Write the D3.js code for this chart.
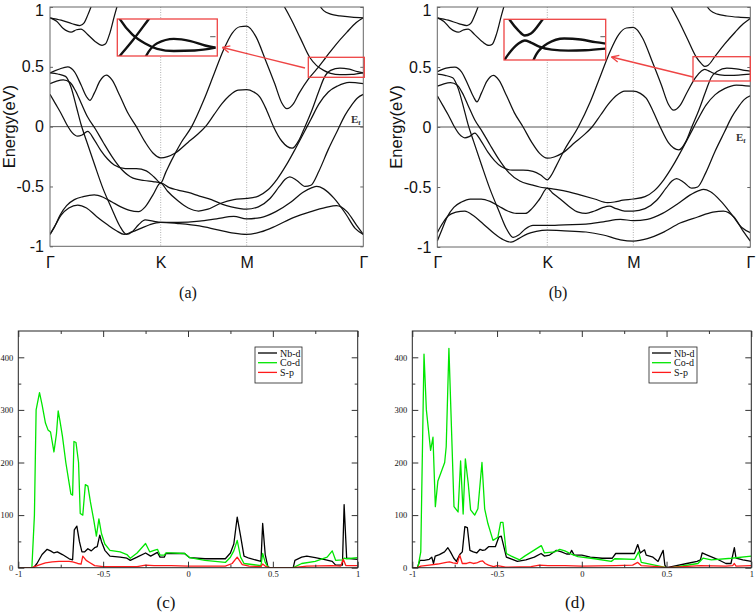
<!DOCTYPE html>
<html>
<head>
<meta charset="utf-8">
<script src="https://cdn.jsdelivr.net/npm/d3@7"></script>
<style>
  body { margin: 0; background: #fff; }
  svg { display: block; }
</style>
</head>
<body>
<svg id="fig" width="756" height="614"></svg>
<script>
// ---------- band structure data: [k (Γ=0, K=1, M=2, Γ=3), E in eV] ----------
var kTicks = [0, 1, 2, 3];
var kLabels = ["Γ", "K", "M", "Γ"];
var eTicks = [-1, -0.5, 0, 0.5, 1];

var aTop1 = [[0,0.91],[0.1,0.89],[0.2,0.86],[0.27,0.845],[0.31,0.87],[0.34,0.93],[0.37,1.0],[0.4,1.08]];
var aTop2 = [[0,0.91],[0.06,0.88],[0.12,0.82],[0.19,0.79],[0.24,0.81],[0.28,0.815],[0.34,0.77],[0.41,0.71],[0.47,0.68],[0.5,0.69],[0.54,0.78],[0.58,0.92],[0.62,1.05]];
var aU = [[0,0.45],[0.08,0.48],[0.16,0.5],[0.22,0.46],[0.28,0.35],[0.33,0.25],[0.36,0.22],[0.4,0.28],[0.45,0.38],[0.51,0.43],[0.56,0.39],[0.63,0.26],[0.7,0.12],[0.78,0.0],[0.86,-0.13],[0.93,-0.22],[1,-0.26],[1.08,-0.25],[1.17,-0.22],[1.32,-0.13],[1.42,-0.07],[1.52,0.0],[1.62,0.1],[1.71,0.19],[1.8,0.26],[1.9,0.305],[2,0.31],[2.06,0.29],[2.11,0.25],[2.17,0.14],[2.23,0.0],[2.3,-0.12],[2.39,-0.18],[2.45,-0.11],[2.5,0.0],[2.56,0.14],[2.62,0.3],[2.665,0.41],[2.72,0.47],[2.8,0.49],[2.88,0.48],[2.95,0.46],[3,0.45]];
var aS = [[0,0.45],[0.07,0.44],[0.14,0.42],[0.19,0.33],[0.24,0.16],[0.28,0.02],[0.33,-0.12],[0.4,-0.31],[0.48,-0.52],[0.56,-0.69],[0.63,-0.83],[0.69,-0.9],[0.74,-0.88],[0.8,-0.82],[0.86,-0.78],[0.93,-0.79],[1,-0.8],[1.2,-0.8],[1.45,-0.79],[1.65,-0.77],[1.85,-0.75],[2,-0.77],[2.12,-0.76],[2.25,-0.71],[2.38,-0.63],[2.48,-0.55],[2.56,-0.51],[2.6,-0.5],[2.66,-0.52],[2.75,-0.6],[2.85,-0.73],[2.93,-0.85],[3,-0.9]];
var aMid2 = [[0,0.36],[0.06,0.38],[0.12,0.39],[0.18,0.37],[0.23,0.3],[0.28,0.2],[0.34,0.08],[0.41,-0.02],[0.48,-0.13],[0.56,-0.25],[0.65,-0.36],[0.75,-0.43],[0.85,-0.45],[0.93,-0.46],[1,-0.47],[1.08,-0.54],[1.2,-0.62],[1.32,-0.68],[1.44,-0.705],[1.55,-0.69],[1.7,-0.64],[1.85,-0.61],[2,-0.6],[2.1,-0.58],[2.18,-0.53],[2.26,-0.44],[2.34,-0.32],[2.42,-0.18],[2.48,-0.07],[2.55,0.06],[2.62,0.19],[2.7,0.29],[2.78,0.34],[2.88,0.37],[3,0.36]];
var aMid1 = [[0,0.27],[0.05,0.19],[0.1,0.11],[0.15,0.02],[0.2,-0.05],[0.25,-0.08],[0.29,-0.07],[0.34,-0.04],[0.4,-0.11],[0.46,-0.2],[0.52,-0.27],[0.58,-0.32],[0.68,-0.35],[0.78,-0.35],[0.87,-0.37],[0.94,-0.42],[1,-0.47],[1.06,-0.38],[1.12,-0.29],[1.24,-0.13],[1.36,0.0],[1.5,0.22],[1.62,0.44],[1.73,0.64],[1.83,0.78],[1.92,0.835],[2,0.84],[2.08,0.75],[2.16,0.56],[2.24,0.36],[2.3,0.2],[2.345,0.15],[2.4,0.19],[2.45,0.28],[2.53,0.4],[2.6,0.48],[2.68,0.58],[2.76,0.68],[2.86,0.79],[2.94,0.87],[3,0.91]];
var aBx1 = [[0,-0.9],[0.05,-0.82],[0.1,-0.74],[0.17,-0.68],[0.25,-0.655],[0.33,-0.68],[0.42,-0.75],[0.52,-0.82],[0.6,-0.87],[0.67,-0.9],[0.74,-0.88],[0.82,-0.85],[0.9,-0.82],[1,-0.8],[1.2,-0.81],[1.45,-0.83],[1.65,-0.86],[1.85,-0.89],[2,-0.9],[2.12,-0.88],[2.25,-0.83],[2.4,-0.76],[2.55,-0.71],[2.68,-0.675],[2.77,-0.66],[2.86,-0.71],[2.94,-0.82],[3,-0.9]];
var aBx2 = [[0,-0.9],[0.04,-0.84],[0.09,-0.74],[0.15,-0.66],[0.22,-0.61],[0.3,-0.585],[0.4,-0.57],[0.48,-0.59],[0.56,-0.63],[0.64,-0.67],[0.72,-0.7],[0.8,-0.71],[0.86,-0.67],[0.93,-0.57],[1,-0.47],[1.1,-0.51],[1.2,-0.53],[1.32,-0.55],[1.45,-0.58],[1.59,-0.61],[1.72,-0.65],[1.82,-0.67],[2,-0.69],[2.1,-0.67],[2.2,-0.6],[2.28,-0.5],[2.33,-0.44],[2.37,-0.42],[2.43,-0.45],[2.5,-0.5],[2.55,-0.49],[2.62,-0.37],[2.7,-0.19],[2.78,-0.03],[2.84,0.09],[2.9,0.18],[2.95,0.24],[3,0.27]];
var aArc = [[2.58,1.1],[2.62,1.02],[2.66,0.97],[2.72,0.94],[2.8,0.925],[2.9,0.915],[3,0.91]];
var aDown = [[2.26,1.1],[2.3,1.04],[2.38,0.9],[2.46,0.74],[2.54,0.58],[2.6,0.51],[2.66,0.47],[2.72,0.445],[2.8,0.435],[2.9,0.437],[3,0.45]];

var bU = [[0,0.46],[0.08,0.49],[0.16,0.5],[0.22,0.46],[0.28,0.35],[0.33,0.25],[0.36,0.21],[0.4,0.28],[0.45,0.38],[0.51,0.43],[0.56,0.39],[0.63,0.26],[0.7,0.12],[0.78,0.0],[0.86,-0.13],[0.93,-0.22],[1,-0.26],[1.08,-0.25],[1.17,-0.22],[1.32,-0.13],[1.42,-0.07],[1.52,0.0],[1.62,0.1],[1.71,0.19],[1.8,0.26],[1.9,0.3],[2,0.3],[2.06,0.28],[2.11,0.24],[2.17,0.13],[2.23,0.0],[2.3,-0.13],[2.39,-0.19],[2.45,-0.12],[2.5,0.0],[2.56,0.14],[2.62,0.3],[2.665,0.41],[2.72,0.465],[2.8,0.49],[2.88,0.485],[2.95,0.472],[3,0.465]];
var bS = [[0,0.44],[0.07,0.43],[0.14,0.41],[0.19,0.32],[0.24,0.16],[0.28,0.02],[0.33,-0.12],[0.4,-0.31],[0.48,-0.52],[0.56,-0.7],[0.63,-0.85],[0.69,-0.92],[0.74,-0.9],[0.8,-0.85],[0.87,-0.82],[0.94,-0.82],[1,-0.82],[1.2,-0.815],[1.45,-0.81],[1.65,-0.79],[1.85,-0.77],[2,-0.78],[2.12,-0.77],[2.25,-0.72],[2.38,-0.64],[2.48,-0.57],[2.56,-0.53],[2.6,-0.52],[2.66,-0.54],[2.75,-0.62],[2.85,-0.74],[2.93,-0.84],[3,-0.88]];
var bMid2 = [[0,0.34],[0.06,0.36],[0.12,0.37],[0.18,0.35],[0.23,0.28],[0.28,0.18],[0.34,0.06],[0.41,-0.04],[0.48,-0.15],[0.56,-0.27],[0.65,-0.38],[0.75,-0.45],[0.85,-0.48],[0.93,-0.5],[1,-0.51],[1.1,-0.52],[1.25,-0.54],[1.4,-0.57],[1.55,-0.6],[1.7,-0.63],[1.78,-0.625],[1.88,-0.61],[2,-0.6],[2.1,-0.58],[2.18,-0.53],[2.26,-0.44],[2.34,-0.32],[2.42,-0.18],[2.48,-0.07],[2.55,0.06],[2.62,0.18],[2.7,0.27],[2.78,0.32],[2.88,0.35],[3,0.34]];
var bMid1 = [[0,0.26],[0.05,0.18],[0.1,0.1],[0.15,0.01],[0.2,-0.06],[0.25,-0.09],[0.29,-0.08],[0.34,-0.05],[0.4,-0.12],[0.46,-0.21],[0.52,-0.28],[0.58,-0.33],[0.68,-0.36],[0.78,-0.36],[0.87,-0.37],[0.94,-0.4],[1,-0.44],[1.04,-0.41],[1.1,-0.33],[1.2,-0.19],[1.36,0.0],[1.5,0.21],[1.62,0.43],[1.73,0.63],[1.83,0.77],[1.92,0.825],[2,0.83],[2.08,0.74],[2.16,0.55],[2.24,0.35],[2.3,0.19],[2.345,0.14],[2.4,0.18],[2.46,0.29],[2.53,0.41],[2.58,0.465],[2.61,0.48],[2.64,0.47],[2.68,0.45],[2.74,0.435],[2.82,0.43],[2.9,0.432],[3,0.44]];
var bBx1 = [[0,-0.88],[0.05,-0.8],[0.1,-0.74],[0.17,-0.71],[0.25,-0.7],[0.33,-0.74],[0.42,-0.81],[0.52,-0.89],[0.6,-0.94],[0.67,-0.96],[0.74,-0.93],[0.82,-0.89],[0.9,-0.87],[1,-0.86],[1.2,-0.865],[1.45,-0.875],[1.65,-0.9],[1.85,-0.94],[2,-0.95],[2.12,-0.93],[2.25,-0.88],[2.4,-0.8],[2.55,-0.75],[2.68,-0.71],[2.77,-0.7],[2.86,-0.75],[2.94,-0.87],[3,-0.95]];
var bBx2 = [[0,-0.95],[0.04,-0.86],[0.09,-0.75],[0.15,-0.67],[0.22,-0.625],[0.3,-0.6],[0.4,-0.6],[0.48,-0.62],[0.56,-0.66],[0.64,-0.7],[0.72,-0.72],[0.8,-0.72],[0.86,-0.68],[0.93,-0.6],[1,-0.51],[1.06,-0.55],[1.15,-0.6],[1.25,-0.66],[1.36,-0.71],[1.45,-0.72],[1.55,-0.7],[1.65,-0.67],[1.72,-0.66],[1.8,-0.68],[1.9,-0.7],[2,-0.7],[2.1,-0.68],[2.2,-0.61],[2.28,-0.51],[2.33,-0.45],[2.37,-0.43],[2.43,-0.46],[2.5,-0.51],[2.55,-0.5],[2.62,-0.38],[2.7,-0.2],[2.78,-0.04],[2.84,0.08],[2.9,0.17],[2.95,0.23],[3,0.26]];
var bDown = [[2.26,1.1],[2.3,1.04],[2.38,0.9],[2.46,0.74],[2.54,0.58],[2.58,0.53],[2.61,0.505],[2.64,0.515],[2.7,0.59],[2.78,0.69],[2.87,0.79],[2.94,0.86],[3,0.905]];

var bandsA = [aTop1, aTop2, aU, aS, aMid2, aMid1, aBx1, aBx2, aArc, aDown];
var bandsB = [aTop1, aTop2, bU, bS, bMid2, bMid1, bBx1, bBx2, aArc, bDown];

// ---------- projected DOS data: [E, states] ----------
var cNb = [[-1,0],[-0.91,0],[-0.89,8],[-0.86,25],[-0.83,35],[-0.81,32],[-0.79,28],[-0.77,30],[-0.74,25],[-0.7,17],[-0.68,15],[-0.67,72],[-0.655,79],[-0.64,50],[-0.625,30],[-0.61,30],[-0.59,36],[-0.57,32],[-0.55,38],[-0.535,40],[-0.52,62],[-0.51,50],[-0.49,33],[-0.46,22],[-0.4,20],[-0.36,18],[-0.34,14],[-0.3,20],[-0.25,28],[-0.22,22],[-0.18,29],[-0.165,20],[-0.14,20],[-0.13,27],[-0.1,27],[-0.02,27],[0.01,19],[0.1,17],[0.22,17],[0.25,28],[0.27,45],[0.29,96],[0.31,60],[0.33,22],[0.36,18],[0.43,12],[0.44,84],[0.455,25],[0.47,3],[0.48,0],[0.62,0],[0.63,14],[0.67,20],[0.7,22],[0.75,19],[0.8,16],[0.85,12],[0.87,5],[0.91,5],[0.92,120],[0.935,18],[1,16]];
var cCo = [[-1,0],[-0.92,0],[-0.905,100],[-0.895,300],[-0.875,333],[-0.86,310],[-0.84,275],[-0.825,262],[-0.81,258],[-0.79,220],[-0.775,255],[-0.765,298],[-0.755,280],[-0.74,250],[-0.72,200],[-0.7,160],[-0.69,140],[-0.68,138],[-0.672,240],[-0.66,238],[-0.645,200],[-0.635,103],[-0.62,100],[-0.605,158],[-0.59,155],[-0.575,125],[-0.555,90],[-0.54,60],[-0.525,93],[-0.51,65],[-0.49,45],[-0.46,33],[-0.4,30],[-0.36,25],[-0.34,18],[-0.3,28],[-0.25,46],[-0.225,30],[-0.2,33],[-0.18,35],[-0.165,24],[-0.14,24],[-0.13,28],[-0.1,28],[-0.02,27],[0.01,19],[0.1,14],[0.22,10],[0.25,20],[0.27,32],[0.29,52],[0.31,20],[0.33,8],[0.43,4],[0.44,27],[0.455,10],[0.47,2],[0.48,0],[0.62,0],[0.67,8],[0.75,12],[0.82,20],[0.85,32],[0.87,14],[0.91,15],[0.92,18],[0.935,17],[1,19]];
var cS = [[-1,0],[-0.92,0],[-0.88,5],[-0.84,9],[-0.8,11],[-0.76,12],[-0.7,12],[-0.68,11],[-0.65,8],[-0.63,7],[-0.62,22],[-0.6,14],[-0.58,10],[-0.55,4],[-0.5,2],[-0.3,2],[-0.25,5],[-0.2,4],[-0.1,4],[0,3],[0.22,3],[0.26,8],[0.29,20],[0.32,6],[0.36,3],[0.43,2],[0.44,7],[0.46,2],[0.48,0],[0.62,0],[0.7,3],[0.85,4],[0.9,3],[0.915,16],[0.93,4],[1,4]];

var dNb = [[-1,0],[-0.97,0],[-0.955,14],[-0.93,14],[-0.9,16],[-0.885,20],[-0.875,8],[-0.865,22],[-0.84,25],[-0.81,30],[-0.79,38],[-0.775,30],[-0.755,18],[-0.74,12],[-0.72,25],[-0.705,30],[-0.69,78],[-0.675,76],[-0.66,33],[-0.64,30],[-0.62,28],[-0.6,35],[-0.585,33],[-0.57,34],[-0.55,40],[-0.51,40],[-0.49,58],[-0.475,60],[-0.46,40],[-0.445,20],[-0.41,16],[-0.38,12],[-0.33,15],[-0.28,20],[-0.24,27],[-0.22,22],[-0.19,24],[-0.15,33],[-0.12,30],[-0.09,26],[-0.07,26],[-0.06,33],[-0.045,24],[0,24],[0.05,20],[0.12,18],[0.18,18],[0.2,27],[0.25,27],[0.31,27],[0.33,44],[0.345,28],[0.37,34],[0.38,24],[0.42,20],[0.45,12],[0.48,33],[0.49,5],[0.5,0],[0.53,2],[0.62,8],[0.68,12],[0.7,15],[0.71,28],[0.74,24],[0.8,16],[0.85,8],[0.88,8],[0.9,38],[0.91,18],[0.95,15],[1,12]];
var dCo = [[-1,0],[-0.967,0],[-0.95,30],[-0.931,406],[-0.917,300],[-0.892,223],[-0.878,248],[-0.864,116],[-0.849,165],[-0.809,200],[-0.8,230],[-0.784,417],[-0.754,116],[-0.73,106],[-0.715,203],[-0.7,102],[-0.687,207],[-0.67,160],[-0.656,110],[-0.632,100],[-0.613,112],[-0.589,200],[-0.573,112],[-0.554,84],[-0.524,52],[-0.495,58],[-0.479,86],[-0.465,86],[-0.445,27],[-0.416,22],[-0.367,15],[-0.337,22],[-0.239,42],[-0.22,28],[-0.16,30],[-0.13,35],[-0.1,32],[-0.062,26],[-0.023,21],[0.076,17],[0.174,12],[0.194,17],[0.312,16],[0.335,30],[0.351,10],[0.43,5],[0.5,0],[0.53,0],[0.685,8],[0.715,18],[0.764,15],[0.882,18],[1,22]];
var dS = [[-1,0],[-0.97,0],[-0.95,3],[-0.9,5],[-0.85,7],[-0.8,10],[-0.78,11],[-0.76,9],[-0.735,8],[-0.72,24],[-0.705,8],[-0.68,8],[-0.66,10],[-0.64,8],[-0.62,9],[-0.6,12],[-0.585,13],[-0.57,8],[-0.55,5],[-0.52,2],[-0.5,4],[-0.48,3],[-0.45,1],[-0.3,2],[-0.25,5],[-0.2,4],[-0.1,4],[0,3],[0.2,4],[0.3,5],[0.33,10],[0.35,4],[0.45,2],[0.5,0],[0.55,1],[0.7,4],[0.85,3],[0.89,4],[0.9,8],[0.91,3],[1,4]];

var dosNames = ["Nb-d", "Co-d", "S-p"];
var dosColors = ["#000000", "#00e600", "#ff1a1a"];
var dosMajorX = [-1, -0.5, 0, 0.5, 1];
var dosMinorX = [-0.75, -0.25, 0.25, 0.75];
var dosMajorY = [0, 100, 200, 300, 400];
var dosMinorY = [50, 150, 250, 350];

// ---------- drawing ----------
var svg = d3.select("#fig");
svg.append("rect").attr("width", 756).attr("height", 614).attr("fill", "#fff");
var sans = "Liberation Sans, Arial, Helvetica, sans-serif";
var serif = "Liberation Serif, Times New Roman, serif";
var red = "#ee4444";

function bandPanel(name, lay, bands) {
  var x = d3.scaleLinear().domain(kTicks).range(lay.kx);
  var y = d3.scaleLinear().domain([-1, 1]).range([lay.bottom, lay.top]);
  var x0 = lay.kx[0], x1 = lay.kx[3];
  var g = svg.append("g");

  g.append("clipPath").attr("id", name + "-clip")
    .append("rect").attr("x", x0).attr("y", lay.top)
    .attr("width", x1 - x0).attr("height", lay.bottom - lay.top);

  // K and M guide lines
  g.selectAll(".hs").data([1, 2]).join("line")
    .attr("x1", d => x(d)).attr("x2", d => x(d))
    .attr("y1", lay.top).attr("y2", lay.bottom)
    .attr("stroke", "#9a9a9a").attr("stroke-width", 0.8).attr("stroke-dasharray", "1,1.5");

  g.append("line").attr("x1", x0).attr("x2", x1).attr("y1", y(0)).attr("y2", y(0))
    .attr("stroke", "#555").attr("stroke-width", 1);

  var line = d3.line().x(d => x(d[0])).y(d => y(d[1])).curve(d3.curveMonotoneX);
  g.append("g").attr("clip-path", "url(#" + name + "-clip)")
    .selectAll("path").data(bands).join("path")
    .attr("d", line).attr("fill", "none")
    .attr("stroke", "#111").attr("stroke-width", 1.25);

  g.append("rect").attr("x", x0).attr("y", lay.top)
    .attr("width", x1 - x0).attr("height", lay.bottom - lay.top)
    .attr("fill", "none").attr("stroke", "#666").attr("stroke-width", 1);

  var yl = g.append("g").attr("transform", "translate(" + x0 + ",0)")
    .call(d3.axisLeft(y).tickValues(eTicks).tickFormat(d => String(d))
      .tickSizeInner(-3).tickSizeOuter(0).tickPadding(6));
  var yr = g.append("g").attr("transform", "translate(" + x1 + ",0)")
    .call(d3.axisRight(y).tickValues(eTicks).tickFormat("")
      .tickSizeInner(-3).tickSizeOuter(0));
  var xb = g.append("g").attr("transform", "translate(0," + lay.bottom + ")")
    .call(d3.axisBottom(x).tickValues(kTicks).tickFormat((d, i) => kLabels[i])
      .tickSize(0).tickPadding(10));
  [yl, yr, xb].forEach(function (a) {
    a.select(".domain").remove();
    a.selectAll("line").attr("stroke", "#666");
    a.selectAll("text").attr("font-family", sans).attr("font-size", 16).attr("fill", "#111");
  });
  // keep the top label inside the picture
  yl.selectAll("text").filter(d => d === 1).attr("y", 3);

  g.append("text")
    .attr("transform", "translate(" + lay.ylabX + "," + y(0) + ") rotate(-90)")
    .attr("text-anchor", "middle").attr("font-family", sans).attr("font-size", 16.5)
    .attr("fill", "#111").text("Energy(eV)");

  var ef = g.append("text").attr("x", lay.ef[0]).attr("y", lay.ef[1])
    .attr("font-family", serif).attr("font-size", 11).attr("font-weight", "bold").attr("fill", "#333");
  ef.append("tspan").text("E");
  ef.append("tspan").attr("font-size", 7).attr("dy", 2).text("f");

  g.append("text").attr("x", lay.label[0]).attr("y", lay.label[1])
    .attr("text-anchor", "middle").attr("font-family", serif).attr("font-size", 16)
    .attr("fill", "#111").text(lay.label[2]);

  // magnified inset of the small box
  var sb = lay.small, ib = lay.inset;
  var xi = d3.scaleLinear().domain([x.invert(sb[0]), x.invert(sb[2])]).range([ib[0], ib[2]]);
  var yi = d3.scaleLinear().domain([y.invert(sb[3]), y.invert(sb[1])]).range([ib[3], ib[1]]);
  g.append("clipPath").attr("id", name + "-iclip")
    .append("rect").attr("x", ib[0]).attr("y", ib[1])
    .attr("width", ib[2] - ib[0]).attr("height", ib[3] - ib[1]);
  g.append("rect").attr("x", ib[0]).attr("y", ib[1])
    .attr("width", ib[2] - ib[0]).attr("height", ib[3] - ib[1]).attr("fill", "#fff");
  var ig = g.append("g").attr("clip-path", "url(#" + name + "-iclip)");
  var tickK = x.invert(x1 - 3);
  ig.selectAll("line").data(eTicks).join("line")
    .attr("x1", xi(tickK)).attr("x2", xi(3)).attr("y1", d => yi(d)).attr("y2", d => yi(d))
    .attr("stroke", "#777").attr("stroke-width", 1.2);
  var iline = d3.line().x(d => xi(d[0])).y(d => yi(d[1])).curve(d3.curveMonotoneX);
  ig.selectAll("path").data(bands).join("path")
    .attr("d", iline).attr("fill", "none").attr("stroke", "#111").attr("stroke-width", 2.4);
  g.append("rect").attr("x", ib[0]).attr("y", ib[1])
    .attr("width", ib[2] - ib[0]).attr("height", ib[3] - ib[1])
    .attr("fill", "none").attr("stroke", red).attr("stroke-width", 1.3);
  g.append("rect").attr("x", sb[0]).attr("y", sb[1])
    .attr("width", sb[2] - sb[0]).attr("height", sb[3] - sb[1])
    .attr("fill", "none").attr("stroke", red).attr("stroke-width", 1.3);

  // arrow from the small box to the inset
  var t = lay.arrow[0], h = lay.arrow[1];
  var ang = Math.atan2(t[1] - h[1], t[0] - h[0]);
  g.append("line").attr("x1", t[0]).attr("y1", t[1]).attr("x2", h[0]).attr("y2", h[1])
    .attr("stroke", red).attr("stroke-width", 1.3);
  [0.45, -0.45].forEach(function (da) {
    g.append("line").attr("x1", h[0]).attr("y1", h[1])
      .attr("x2", h[0] + 8 * Math.cos(ang + da)).attr("y2", h[1] + 8 * Math.sin(ang + da))
      .attr("stroke", red).attr("stroke-width", 1.3);
  });
}

function dosPanel(name, lay, series) {
  var x = d3.scaleLinear().domain([-1, 1]).range([lay.left, lay.right]);
  var y = d3.scaleLinear().domain([0, 450]).range([lay.bottom, lay.top]);
  var g = svg.append("g");

  g.append("clipPath").attr("id", name + "-clip")
    .append("rect").attr("x", lay.left).attr("y", lay.top)
    .attr("width", lay.right - lay.left).attr("height", lay.bottom - lay.top);

  var line = d3.line().x(d => x(d[0])).y(d => y(d[1]));
  g.append("g").attr("clip-path", "url(#" + name + "-clip)")
    .selectAll("path").data(series).join("path")
    .attr("d", d => line(d)).attr("fill", "none")
    .attr("stroke", (d, i) => dosColors[i]).attr("stroke-width", 1.3)
    .attr("stroke-linejoin", "round");

  g.append("rect").attr("x", lay.left).attr("y", lay.top)
    .attr("width", lay.right - lay.left).attr("height", lay.bottom - lay.top)
    .attr("fill", "none").attr("stroke", "#222").attr("stroke-width", 1);

  var axes = [];
  axes.push(g.append("g").attr("transform", "translate(0," + lay.bottom + ")")
    .call(d3.axisBottom(x).tickValues(dosMajorX).tickFormat(d => String(d)).tickSizeInner(-6).tickSizeOuter(0).tickPadding(3)));
  axes.push(g.append("g").attr("transform", "translate(0," + lay.bottom + ")")
    .call(d3.axisBottom(x).tickValues(dosMinorX).tickFormat("").tickSizeInner(-3).tickSizeOuter(0)));
  axes.push(g.append("g").attr("transform", "translate(0," + lay.top + ")")
    .call(d3.axisTop(x).tickValues(dosMajorX).tickFormat("").tickSizeInner(-6).tickSizeOuter(0)));
  axes.push(g.append("g").attr("transform", "translate(0," + lay.top + ")")
    .call(d3.axisTop(x).tickValues(dosMinorX).tickFormat("").tickSizeInner(-3).tickSizeOuter(0)));
  axes.push(g.append("g").attr("transform", "translate(" + lay.left + ",0)")
    .call(d3.axisLeft(y).tickValues(dosMajorY).tickFormat(d => String(d)).tickSizeInner(-6).tickSizeOuter(0).tickPadding(5)));
  axes.push(g.append("g").attr("transform", "translate(" + lay.left + ",0)")
    .call(d3.axisLeft(y).tickValues(dosMinorY).tickFormat("").tickSizeInner(-3).tickSizeOuter(0)));
  axes.push(g.append("g").attr("transform", "translate(" + lay.right + ",0)")
    .call(d3.axisRight(y).tickValues(dosMajorY).tickFormat("").tickSizeInner(-6).tickSizeOuter(0)));
  axes.push(g.append("g").attr("transform", "translate(" + lay.right + ",0)")
    .call(d3.axisRight(y).tickValues(dosMinorY).tickFormat("").tickSizeInner(-3).tickSizeOuter(0)));
  axes.forEach(function (a) {
    a.select(".domain").remove();
    a.selectAll("line").attr("stroke", "#333");
    a.selectAll("text").attr("font-family", serif).attr("font-size", 8.5).attr("fill", "#111");
  });

  // legend
  var lg = lay.legend;
  g.append("rect").attr("x", lg[0]).attr("y", lg[1]).attr("width", lg[2]).attr("height", lg[3])
    .attr("fill", "#fff").attr("stroke", "#222").attr("stroke-width", 0.8);
  var item = g.selectAll(".lg").data(dosNames).join("g")
    .attr("transform", (d, i) => "translate(" + (lg[0] + 3) + "," + (lg[1] + 6 + i * 9.7) + ")");
  item.append("line").attr("x1", 0).attr("x2", 19).attr("y1", 0).attr("y2", 0)
    .attr("stroke", (d, i) => dosColors[i]).attr("stroke-width", 1.3);
  item.append("text").attr("x", 22).attr("y", 3.5)
    .attr("font-family", serif).attr("font-size", 10).attr("fill", "#111").text(d => d);

  g.append("text").attr("x", lay.label[0]).attr("y", lay.label[1])
    .attr("text-anchor", "middle").attr("font-family", serif).attr("font-size", 17)
    .attr("fill", "#111").text(lay.label[2]);
}

bandPanel("pa", {
  kx: [50, 160.7, 246.7, 363.3], top: 7, bottom: 246.3,
  ylabX: 15, ef: [351, 123], label: [188, 298, "(a)"],
  small: [308.3, 57.3, 364.3, 77.3], inset: [117.3, 19, 217.3, 56],
  arrow: [[305, 68], [222.5, 47.5]]
}, bandsA);

bandPanel("pb", {
  kx: [437.3, 547.3, 633.3, 750.3], top: 7, bottom: 247,
  ylabX: 401.5, ef: [736, 141], label: [558, 298, "(b)"],
  small: [693, 56.7, 750.3, 81], inset: [504, 19.3, 605.7, 60],
  arrow: [[693, 77], [611.5, 57]]
}, bandsB);

dosPanel("pc", {
  left: 18.3, right: 357.7, top: 331, bottom: 567.7,
  legend: [255, 347, 47, 36], label: [166, 608, "(c)"]
}, [cNb, cCo, cS]);

dosPanel("pd", {
  left: 412.3, right: 751.3, top: 331, bottom: 567.7,
  legend: [649, 347, 48, 36], label: [575, 608, "(d)"]
}, [dNb, dCo, dS]);
</script>
</body>
</html>
